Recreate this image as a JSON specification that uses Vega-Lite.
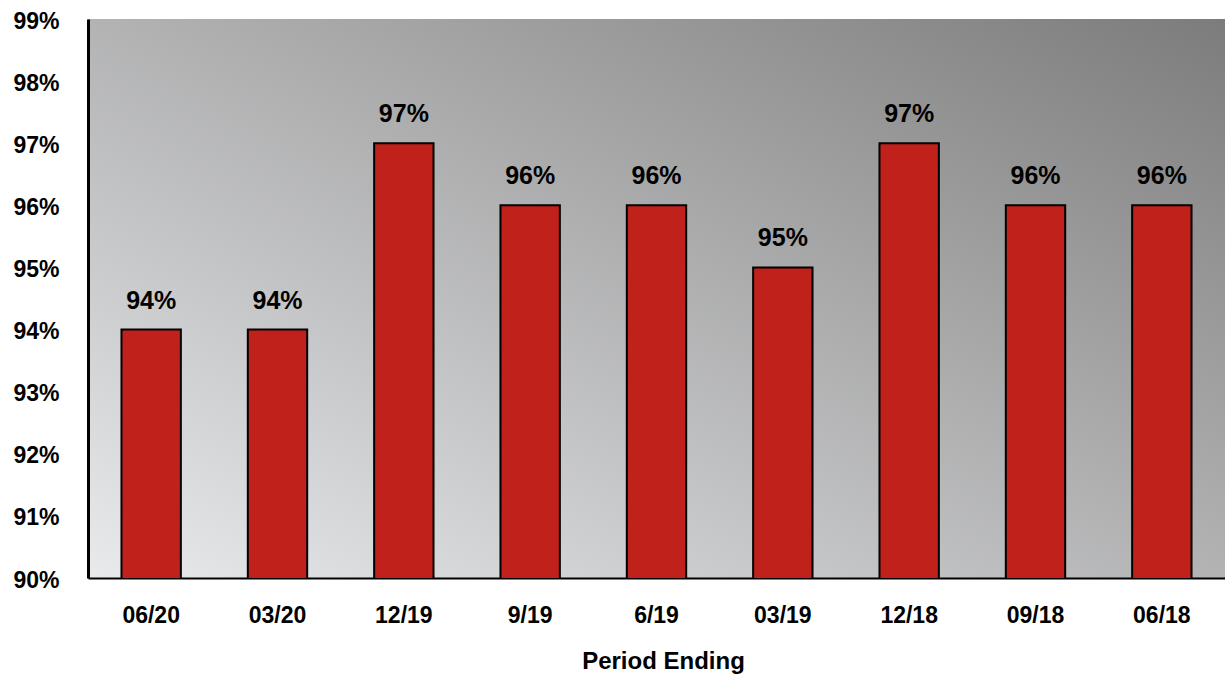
{
  "$schema": "https://vega.github.io/schema/vega-lite/v6.json",
  "width": 1137,
  "height": 559,
  "autosize": {"type": "none"},
  "padding": {"left": 88, "top": 19, "right": 0, "bottom": 99},
  "background": "white",
  "config": {
    "view": {
      "stroke": null,
      "fill": {
        "gradient": "linear",
        "x1": 0, "y1": 1, "x2": 1, "y2": 0,
        "stops": [
          {"offset": 0, "color": "#e9eaec"},
          {"offset": 1, "color": "#7c7c7c"}
        ]
      }
    },
    "font": "Liberation Sans",
    "axis": {
      "grid": false,
      "ticks": false,
      "domainColor": "#000000",
      "labelFont": "Liberation Sans",
      "labelFontWeight": "bold",
      "labelFontSize": 23,
      "labelColor": "#000000",
      "titleFont": "Liberation Sans",
      "titleFontWeight": "bold",
      "titleFontSize": 24,
      "titleColor": "#000000"
    }
  },
  "data": {
    "values": [
      {"period": "06/20", "value": 94, "label": "94%"},
      {"period": "03/20", "value": 94, "label": "94%"},
      {"period": "12/19", "value": 97, "label": "97%"},
      {"period": "9/19", "value": 96, "label": "96%"},
      {"period": "6/19", "value": 96, "label": "96%"},
      {"period": "03/19", "value": 95, "label": "95%"},
      {"period": "12/18", "value": 97, "label": "97%"},
      {"period": "09/18", "value": 96, "label": "96%"},
      {"period": "06/18", "value": 96, "label": "96%"}
    ]
  },
  "encoding": {
    "x": {
      "field": "period",
      "type": "nominal",
      "sort": null,
      "scale": {"paddingInner": 0.53, "paddingOuter": 0.265},
      "axis": {
        "title": "Period Ending",
        "labelAngle": 0,
        "labelPadding": 26,
        "titlePadding": 22,
        "titleX": 575,
        "titleAlign": "center",
        "domainWidth": 2
      }
    },
    "y": {
      "field": "value",
      "type": "quantitative",
      "scale": {"domain": [90, 99], "nice": false, "zero": false},
      "axis": {
        "title": null,
        "values": [90, 91, 92, 93, 94, 95, 96, 97, 98, 99],
        "labelExpr": "datum.value + '%'",
        "labelPadding": 29,
        "domainWidth": 3,
        "labelBaseline": "middle",
        "labelOffset": 2
      }
    }
  },
  "layer": [
    {
      "mark": {"type": "bar", "color": "#c0211a", "stroke": "#000000", "strokeWidth": 2, "clip": true}
    },
    {
      "mark": {
        "type": "text",
        "baseline": "alphabetic",
        "dy": -21,
        "fontSize": 25,
        "fontWeight": "bold",
        "font": "Liberation Sans",
        "color": "#000000"
      },
      "encoding": {
        "text": {"field": "label", "type": "nominal"}
      }
    }
  ]
}
